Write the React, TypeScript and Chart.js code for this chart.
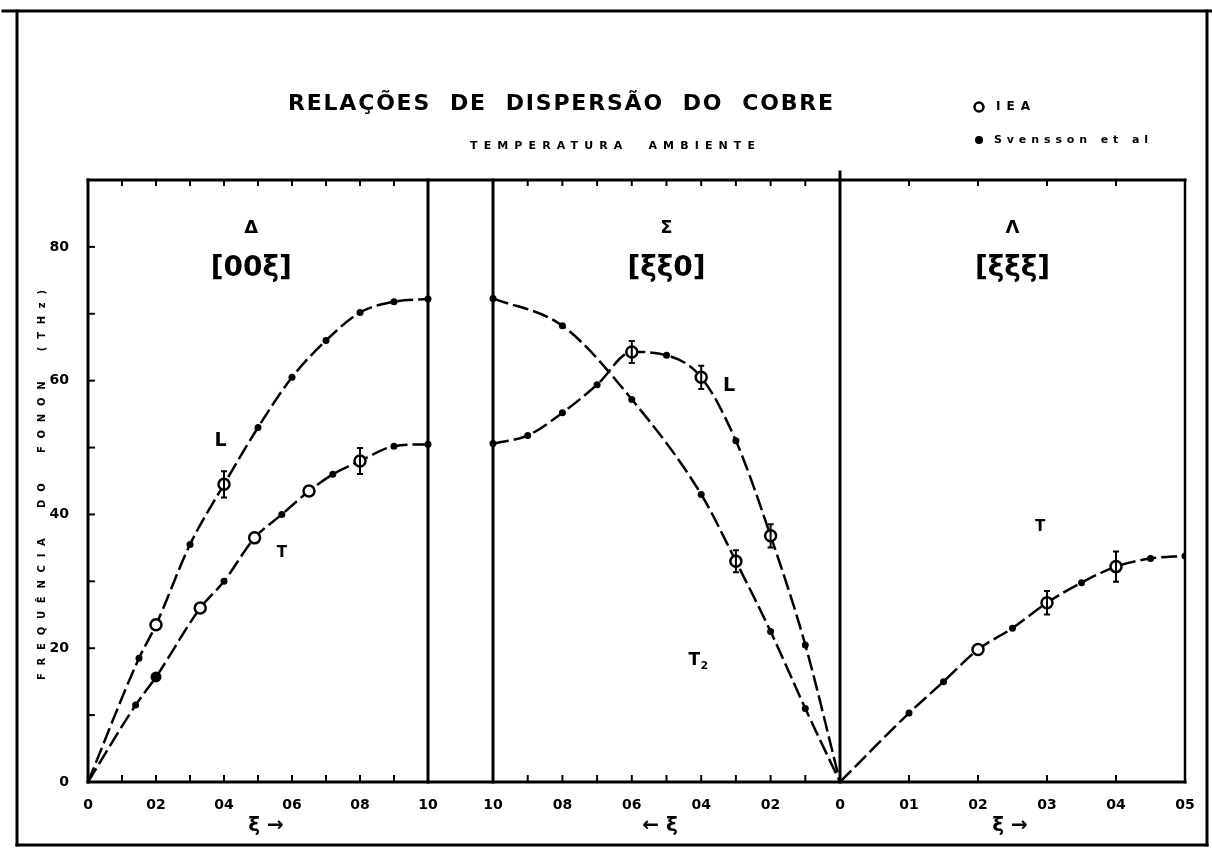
import React, { useEffect, useRef } from 'react';
import { Chart, registerables } from 'chart.js';

Chart.register(...registerables);

// ---------------- data (frequency in units of 0.1 THz, as on the axis) ----------------
// Δ [00ξ]
const DELTA_L_SV_XI = [0.15, 0.3, 0.5, 0.6, 0.7, 0.8, 0.9, 1.0];
const DELTA_L_SV_F = [18.5, 35.5, 53.0, 60.5, 66.0, 70.2, 71.8, 72.2];
const DELTA_L_IEA_XI = [0.2, 0.4];
const DELTA_L_IEA_F = [23.5, 44.5];
const DELTA_L_IEA_ERR = [0, 1.5];

const DELTA_T_SV_XI = [0.14, 0.2, 0.4, 0.57, 0.72, 0.9, 1.0];
const DELTA_T_SV_F = [11.5, 15.7, 30.0, 40.0, 46.0, 50.2, 50.5];
const DELTA_T_IEA_XI = [0.33, 0.49, 0.65, 0.8];
const DELTA_T_IEA_F = [26.0, 36.5, 43.5, 48.0];
const DELTA_T_IEA_ERR = [0, 0, 0, 1.5];

// Σ [ξξ0]
const SIGMA_L_SV_XI = [1.0, 0.9, 0.8, 0.7, 0.5, 0.3, 0.1];
const SIGMA_L_SV_F = [50.6, 51.8, 55.2, 59.4, 63.8, 51.0, 20.5];
const SIGMA_L_IEA_XI = [0.6, 0.4, 0.2];
const SIGMA_L_IEA_F = [64.3, 60.5, 36.8];
const SIGMA_L_IEA_ERR = [1.2, 1.3, 1.3];

const SIGMA_T2_SV_XI = [1.0, 0.8, 0.6, 0.4, 0.2, 0.1];
const SIGMA_T2_SV_F = [72.3, 68.2, 57.2, 43.0, 22.5, 11.0];
const SIGMA_T2_IEA_XI = [0.3];
const SIGMA_T2_IEA_F = [33.0];
const SIGMA_T2_IEA_ERR = [1.2];

// Λ [ξξξ]
const LAMBDA_T_SV_XI = [0.1, 0.15, 0.25, 0.35, 0.45, 0.5];
const LAMBDA_T_SV_F = [10.3, 15.0, 23.0, 29.8, 33.4, 33.8];
const LAMBDA_T_IEA_XI = [0.2, 0.3, 0.4];
const LAMBDA_T_IEA_F = [19.8, 26.8, 32.2];
const LAMBDA_T_IEA_ERR = [0, 1.3, 1.8];

// tick values / labels
const DELTA_TICK_XI = [0, 0.1, 0.2, 0.3, 0.4, 0.5, 0.6, 0.7, 0.8, 0.9, 1.0];
const DELTA_TICK_LABELS = ['0', '', '02', '', '04', '', '06', '', '08', '', '10'];
const SIGMA_TICK_XI = [1.0, 0.9, 0.8, 0.7, 0.6, 0.5, 0.4, 0.3, 0.2, 0.1, 0];
const SIGMA_TICK_LABELS = ['10', '', '08', '', '06', '', '04', '', '02', '', '0'];
const LAMBDA_TICK_XI = [0.1, 0.2, 0.3, 0.4, 0.5];
const LAMBDA_TICK_LABELS = ['01', '02', '03', '04', '05'];
const Y_TICKS = [0, 10, 20, 30, 40, 50, 60, 70, 80];
const Y_TICK_LABELS = ['0', '', '20', '', '40', '', '60', '', '80'];

// ---------------- panel mapping onto one linear axis ----------------
const X_MAX = 1097;
const mapDelta = (xi: number) => xi * 340;
const mapSigma = (xi: number) => 405 + (1 - xi) * 347;
const mapLambda = (xi: number) => 752 + xi * 690;

type P = { x: number; y: number };
const pts = (map: (v: number) => number, xs: number[], fs: number[]): P[] =>
  xs.map((xi, i) => ({ x: map(xi), y: fs[i] }));
const curve = (...groups: P[][]): P[] => groups.flat().sort((a, b) => a.x - b.x);

const X_TICKS = [
  ...DELTA_TICK_XI.map((v, i) => ({ v: mapDelta(v), label: DELTA_TICK_LABELS[i] })),
  ...SIGMA_TICK_XI.map((v, i) => ({ v: mapSigma(v), label: SIGMA_TICK_LABELS[i] })),
  ...LAMBDA_TICK_XI.map((v, i) => ({ v: mapLambda(v), label: LAMBDA_TICK_LABELS[i] })),
];
const DIVIDERS = [mapDelta(1), mapSigma(1), mapSigma(0)];

const FONT = '"DejaVu Sans", "Liberation Sans", sans-serif';

const BRANCH_LABELS = [
  { text: 'L', map: mapDelta, xi: 0.39, f: 51.0, size: 19 },
  { text: 'T', map: mapDelta, xi: 0.57, f: 34.2, size: 15 },
  { text: 'L', map: mapSigma, xi: 0.32, f: 59.2, size: 19 },
  { text: 'T', sub: '2', map: mapSigma, xi: 0.42, f: 18.2, size: 17 },
  { text: 'T', map: mapLambda, xi: 0.29, f: 38.1, size: 15 },
];

const PANEL_LABELS = [
  { sym: 'Δ', dir: '[00ξ]', map: mapDelta, xi: 0.48 },
  { sym: 'Σ', dir: '[ξξ0]', map: mapSigma, xi: 0.5 },
  { sym: 'Λ', dir: '[ξξξ]', map: mapLambda, xi: 0.25 },
];

function fitText(ctx: CanvasRenderingContext2D, text: string, left: number, cy: number, font: string, width: number) {
  ctx.font = font;
  (ctx as any).letterSpacing = '0px';
  const w = ctx.measureText(text).width;
  const n = Array.from(text).length;
  const ls = n > 1 ? (width - w) / (n - 1) : 0;
  (ctx as any).letterSpacing = ls + 'px';
  ctx.textAlign = 'left';
  ctx.textBaseline = 'middle';
  ctx.fillText(text, left, cy);
  (ctx as any).letterSpacing = '0px';
}

const decorPlugin = {
  id: 'decor',
  beforeDraw(chart: any) {
    const ctx = chart.ctx;
    ctx.save();
    ctx.fillStyle = '#fff';
    ctx.fillRect(0, 0, chart.width, chart.height);
    ctx.restore();
  },
  afterDatasetsDraw(chart: any) {
    const ctx = chart.ctx;
    const xs = chart.scales.x;
    const ys = chart.scales.y;
    ctx.save();
    ctx.strokeStyle = '#000';
    ctx.lineWidth = 2;
    chart.data.datasets.forEach((ds: any) => {
      if (!ds.errors) return;
      ds.data.forEach((p: P, i: number) => {
        const e = ds.errors[i];
        if (!e) return;
        const px = xs.getPixelForValue(p.x);
        const y1 = ys.getPixelForValue(p.y + e);
        const y2 = ys.getPixelForValue(p.y - e);
        ctx.beginPath();
        ctx.moveTo(px, y1 - 3);
        ctx.lineTo(px, y2 + 3);
        ctx.moveTo(px - 3, y1 - 3);
        ctx.lineTo(px + 3, y1 - 3);
        ctx.moveTo(px - 3, y2 + 3);
        ctx.lineTo(px + 3, y2 + 3);
        ctx.stroke();
      });
    });
    ctx.restore();
  },
  afterDraw(chart: any) {
    const ctx: CanvasRenderingContext2D = chart.ctx;
    const a = chart.chartArea;
    const xs = chart.scales.x;
    const ys = chart.scales.y;
    const line = (x1: number, y1: number, x2: number, y2: number) => {
      ctx.beginPath();
      ctx.moveTo(x1, y1);
      ctx.lineTo(x2, y2);
      ctx.stroke();
    };
    ctx.save();
    ctx.strokeStyle = '#000';
    ctx.fillStyle = '#000';
    ctx.lineCap = 'square';

    // outer frame of the figure
    ctx.lineWidth = 3;
    line(3, 11, 1211, 11);
    line(17, 11, 17, 845);
    line(17, 845, 1207, 845);
    line(1207, 11, 1207, 845);

    // plot frame
    ctx.lineWidth = 3;
    line(a.left, a.top, a.right, a.top);
    line(a.left, a.bottom, a.right, a.bottom);
    line(a.left, a.top, a.left, a.bottom);
    ctx.lineWidth = 2.5;
    line(a.right, a.top, a.right, a.bottom);

    // panel dividers
    ctx.lineWidth = 3;
    DIVIDERS.forEach((v, i) => {
      const px = xs.getPixelForValue(v);
      line(px, i === 2 ? a.top - 8 : a.top, px, a.bottom);
    });

    // inward ticks
    ctx.lineWidth = 2;
    X_TICKS.forEach((t) => {
      const px = xs.getPixelForValue(t.v);
      line(px, a.bottom, px, a.bottom - 6);
      line(px, a.top, px, a.top + 5);
    });
    Y_TICKS.forEach((v) => {
      const py = ys.getPixelForValue(v);
      line(a.left, py, a.left + 6, py);
    });

    // title, subtitle
    fitText(ctx, 'RELAÇÕES  DE  DISPERSÃO  DO  COBRE', 288, 104, `bold 22px ${FONT}`, 545);
    fitText(ctx, 'TEMPERATURA  AMBIENTE', 470, 146, `bold 11px ${FONT}`, 285);

    // legend
    ctx.lineWidth = 2.5;
    ctx.beginPath();
    ctx.arc(979, 107, 4.5, 0, Math.PI * 2);
    ctx.stroke();
    fitText(ctx, 'IEA', 996, 107, `bold 12px ${FONT}`, 34);
    ctx.beginPath();
    ctx.arc(979, 140, 4, 0, Math.PI * 2);
    ctx.fill();
    fitText(ctx, 'Svensson et al', 994, 140, `bold 11px ${FONT}`, 154);

    // y-axis title (rotated)
    ctx.save();
    ctx.translate(42, 485);
    ctx.rotate(-Math.PI / 2);
    fitText(ctx, 'FREQUÊNCIA  DO  FONON  (THz)', -195, 0, `bold 10px ${FONT}`, 390);
    ctx.restore();

    // x-axis titles
    ctx.textAlign = 'center';
    ctx.textBaseline = 'middle';
    ctx.font = `bold 20px ${FONT}`;
    ctx.fillText('ξ →', 266, 826);
    ctx.fillText('← ξ', 660, 826);
    ctx.fillText('ξ →', 1010, 826);

    // panel labels
    PANEL_LABELS.forEach((p) => {
      const px = xs.getPixelForValue(p.map(p.xi));
      ctx.font = `bold 18px ${FONT}`;
      ctx.fillText(p.sym, px, 228);
      ctx.font = `bold 28px ${FONT}`;
      ctx.fillText(p.dir, px, 269);
    });

    // branch labels
    BRANCH_LABELS.forEach((b: any) => {
      const px = xs.getPixelForValue(b.map(b.xi));
      const py = ys.getPixelForValue(b.f);
      ctx.font = `bold ${b.size}px ${FONT}`;
      ctx.textAlign = 'center';
      ctx.fillText(b.text, px, py);
      if (b.sub) {
        ctx.font = `bold 11px ${FONT}`;
        ctx.fillText(b.sub, px + 10, py + 6);
      }
    });

    ctx.restore();
  },
};

export default function App() {
  const ref = useRef<HTMLCanvasElement>(null);

  useEffect(() => {
    document.body.style.margin = '0';
    const lineStyle = {
      showLine: true,
      borderColor: '#000',
      borderWidth: 2.5,
      borderDash: [16, 5],
      pointRadius: 0,
      cubicInterpolationMode: 'monotone',
      fill: false,
      order: 2,
    };
    const svStyle = {
      showLine: false,
      pointRadius: 3.5,
      pointBackgroundColor: '#000',
      pointBorderColor: '#000',
      pointBorderWidth: 0,
      order: 1,
    };
    const ieaStyle = {
      showLine: false,
      pointRadius: 5.5,
      pointBackgroundColor: '#fff',
      pointBorderColor: '#000',
      pointBorderWidth: 2.5,
      order: 0,
    };
    const origin = (map: (v: number) => number): P[] => [{ x: map(0), y: 0 }];

    const dLsv = pts(mapDelta, DELTA_L_SV_XI, DELTA_L_SV_F);
    const dLiea = pts(mapDelta, DELTA_L_IEA_XI, DELTA_L_IEA_F);
    const dTsv = pts(mapDelta, DELTA_T_SV_XI, DELTA_T_SV_F);
    const dTiea = pts(mapDelta, DELTA_T_IEA_XI, DELTA_T_IEA_F);
    const sLsv = pts(mapSigma, SIGMA_L_SV_XI, SIGMA_L_SV_F);
    const sLiea = pts(mapSigma, SIGMA_L_IEA_XI, SIGMA_L_IEA_F);
    const sTsv = pts(mapSigma, SIGMA_T2_SV_XI, SIGMA_T2_SV_F);
    const sTiea = pts(mapSigma, SIGMA_T2_IEA_XI, SIGMA_T2_IEA_F);
    const lTsv = pts(mapLambda, LAMBDA_T_SV_XI, LAMBDA_T_SV_F);
    const lTiea = pts(mapLambda, LAMBDA_T_IEA_XI, LAMBDA_T_IEA_F);

    const chart = new Chart(ref.current as HTMLCanvasElement, {
      type: 'scatter',
      data: {
        datasets: [
          { label: 'Δ L', data: curve(origin(mapDelta), dLsv, dLiea), ...lineStyle },
          { label: 'Δ T', data: curve(origin(mapDelta), dTsv, dTiea), ...lineStyle },
          { label: 'Σ L', data: curve(origin(mapSigma), sLsv, sLiea), ...lineStyle },
          { label: 'Σ T2', data: curve(origin(mapSigma), sTsv, sTiea), ...lineStyle },
          { label: 'Λ T', data: curve(origin(mapLambda), lTsv, lTiea), ...lineStyle },
          { label: 'Svensson Δ L', data: dLsv, ...svStyle },
          {
            label: 'Svensson Δ T',
            data: dTsv,
            ...svStyle,
            pointRadius: (c: any) => (c.dataIndex === 1 ? 5.5 : 3.5),
          },
          { label: 'Svensson Σ L', data: sLsv, ...svStyle },
          { label: 'Svensson Σ T2', data: sTsv, ...svStyle },
          { label: 'Svensson Λ T', data: lTsv, ...svStyle },
          { label: 'IEA Δ L', data: dLiea, errors: DELTA_L_IEA_ERR, ...ieaStyle },
          { label: 'IEA Δ T', data: dTiea, errors: DELTA_T_IEA_ERR, ...ieaStyle },
          { label: 'IEA Σ L', data: sLiea, errors: SIGMA_L_IEA_ERR, ...ieaStyle },
          { label: 'IEA Σ T2', data: sTiea, errors: SIGMA_T2_IEA_ERR, ...ieaStyle },
          { label: 'IEA Λ T', data: lTiea, errors: LAMBDA_T_IEA_ERR, ...ieaStyle },
        ] as any,
      },
      options: {
        responsive: false,
        animation: false,
        events: [],
        layout: { padding: { left: 0, right: 27, top: 180, bottom: 26 } },
        plugins: {
          legend: { display: false },
          tooltip: { enabled: false },
          title: { display: false },
        },
        scales: {
          x: {
            type: 'linear',
            min: 0,
            max: X_MAX,
            grid: { display: false },
            border: { display: false },
            afterBuildTicks: (s: any) => {
              s.ticks = X_TICKS.map((t) => ({ value: t.v }));
            },
            afterFit: (s: any) => {
              s.height = 40;
            },
            ticks: {
              autoSkip: false,
              maxRotation: 0,
              minRotation: 0,
              padding: 7,
              color: '#000',
              font: { family: FONT, size: 14, weight: 'bold' },
              callback: (_v: any, i: number) => (X_TICKS[i] ? X_TICKS[i].label : ''),
            },
          },
          y: {
            type: 'linear',
            min: 0,
            max: 90,
            grid: { display: false },
            border: { display: false },
            afterBuildTicks: (s: any) => {
              s.ticks = Y_TICKS.map((v) => ({ value: v }));
            },
            afterFit: (s: any) => {
              s.width = 88;
            },
            ticks: {
              padding: 11,
              color: '#000',
              font: { family: FONT, size: 14, weight: 'bold' },
              callback: (_v: any, i: number) => Y_TICK_LABELS[i] ?? '',
            },
          },
        },
      } as any,
      plugins: [decorPlugin],
    });
    return () => chart.destroy();
  }, []);

  return (
    <canvas
      ref={ref}
      width={1212}
      height={848}
      style={{ display: 'block', width: 1212, height: 848 }}
    />
  );
}
